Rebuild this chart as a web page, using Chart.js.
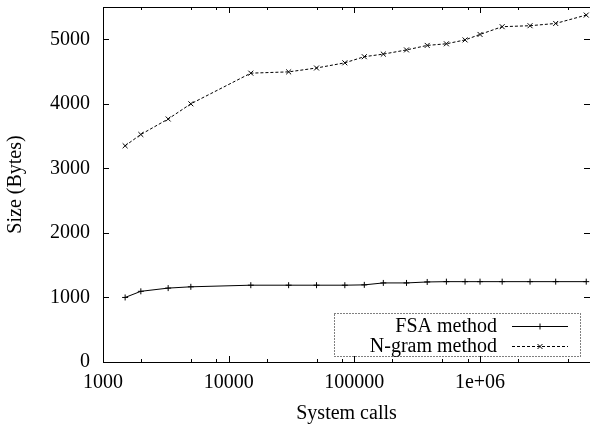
<!DOCTYPE html>
<html lang="en">
<head>
  <meta charset="UTF-8">
  <title>Size vs system calls</title>
  <script src="https://cdn.jsdelivr.net/npm/chart.js"></script>
  <style>
    html, body { margin: 0; padding: 0; background: #fff; overflow: hidden; }
    #wrap { width: 590px; height: 427px; }
  </style>
</head>
<body>
  <div id="wrap"><canvas id="chart" width="590" height="427"></canvas></div>
  <script>
    // data (x is log scale)
    const calls = [1500, 2000, 3300, 5000, 15000, 30000, 50000, 84000, 120000, 170000, 260000, 380000, 540000, 760000, 1000000, 1500000, 2500000, 4000000, 7000000];
    const fsaSize = [1000, 1095, 1145, 1165, 1190, 1190, 1190, 1190, 1195, 1225, 1225, 1240, 1245, 1245, 1245, 1245, 1245, 1245, 1245];
    const ngramSize = [3350, 3525, 3765, 4000, 4475, 4495, 4555, 4635, 4730, 4770, 4835, 4905, 4930, 4990, 5075, 5195, 5210, 5245, 5375];
    const seriesNames = ['FSA method', 'N-gram method'];
    const xMajor = [1000, 10000, 100000, 1000000];
    const xMinorMult = [2, 5, 8];
    const yTicks = [0, 1000, 2000, 3000, 4000, 5000];

    const FONT = { family: "'Liberation Serif', 'Times New Roman', serif", size: 20 };
    const fmtX = v => v >= 1e6 ? Math.round(v / Math.pow(10, Math.floor(Math.log10(v)))) + 'e+' + String(Math.floor(Math.log10(v))).padStart(2, '0') : String(v);

    // frame, inward ticks (gnuplot style) and the boxed legend
    const gnuFrame = {
      id: 'gnuFrame',
      afterDraw(chart) {
        const { ctx, chartArea: a, scales: { x, y } } = chart;
        ctx.save();
        ctx.strokeStyle = '#000'; ctx.lineWidth = 1; ctx.setLineDash([]);
        ctx.beginPath();
        ctx.moveTo(a.left + 0.5, a.top + 0.5); ctx.lineTo(a.left + 0.5, a.bottom + 0.5);
        ctx.lineTo(a.right, a.bottom + 0.5);
        ctx.moveTo(a.left + 0.5, a.top + 0.5); ctx.lineTo(a.right, a.top + 0.5);
        yTicks.forEach(v => {
          const py = Math.round(y.getPixelForValue(v)) + 0.5;
          ctx.moveTo(a.left, py); ctx.lineTo(a.left + 6, py);
          ctx.moveTo(a.right, py); ctx.lineTo(a.right - 6, py);
        });
        xMajor.forEach(v => {
          const px = Math.round(x.getPixelForValue(v)) + 0.5;
          ctx.moveTo(px, a.bottom); ctx.lineTo(px, a.bottom - 6);
          ctx.moveTo(px, a.top); ctx.lineTo(px, a.top + 6);
          xMinorMult.forEach(m => {
            const mv = v * m;
            if (mv > x.max) return;
            const mx = Math.round(x.getPixelForValue(mv)) + 0.5;
            ctx.moveTo(mx, a.bottom); ctx.lineTo(mx, a.bottom - 3);
            ctx.moveTo(mx, a.top); ctx.lineTo(mx, a.top + 3);
          });
        });
        ctx.stroke();

        // legend
        ctx.setLineDash([1, 2]);
        ctx.strokeRect(334.5, 313.5, 246, 43);
        ctx.font = FONT.size + 'px ' + FONT.family;
        ctx.fillStyle = '#000'; ctx.textAlign = 'right'; ctx.textBaseline = 'alphabetic';
        chart.data.datasets.forEach((ds, i) => {
          const ly = 326.5 + i * 20;
          ctx.fillText(ds.label, 497, ly + 5.5);
          ctx.setLineDash(ds.borderDash || []);
          ctx.beginPath(); ctx.moveTo(512, ly); ctx.lineTo(568, ly); ctx.stroke();
          ctx.setLineDash([]);
          ctx.beginPath();
          if (ds.pointStyle === 'cross') {
            ctx.moveTo(537, ly); ctx.lineTo(543, ly); ctx.moveTo(540, ly - 3); ctx.lineTo(540, ly + 3);
          } else {
            ctx.moveTo(537.5, ly - 2.5); ctx.lineTo(542.5, ly + 2.5); ctx.moveTo(537.5, ly + 2.5); ctx.lineTo(542.5, ly - 2.5);
          }
          ctx.stroke();
        });
        ctx.restore();
      }
    };

    new Chart(document.getElementById('chart'), {
      type: 'line',
      data: {
        datasets: [
          { label: seriesNames[0], data: calls.map((c, i) => ({ x: c, y: fsaSize[i] })),
            borderColor: '#000', borderWidth: 1, pointStyle: 'cross', pointRadius: 3,
            pointBorderColor: '#000', pointBorderWidth: 1, tension: 0, fill: false },
          { label: seriesNames[1], data: calls.map((c, i) => ({ x: c, y: ngramSize[i] })),
            borderColor: '#000', borderWidth: 1, borderDash: [3, 2], pointStyle: 'crossRot', pointRadius: 3.5,
            pointBorderColor: '#000', pointBorderWidth: 1, tension: 0, fill: false }
        ]
      },
      options: {
        responsive: false, animation: false, devicePixelRatio: 1,
        layout: { autoPadding: false, padding: { top: 7, right: 0, left: 0, bottom: 0 } },
        plugins: { legend: { display: false }, tooltip: { enabled: false } },
        scales: {
          x: {
            type: 'logarithmic', min: 1000, max: 7.5e6,
            afterBuildTicks: s => { s.ticks = xMajor.map(v => ({ value: v })); },
            afterFit: s => { s.height = 65; s.paddingLeft = 0; s.paddingRight = 0; },
            grid: { display: false, drawTicks: false }, border: { display: false },
            ticks: { color: '#000', font: FONT, padding: 9, maxRotation: 0, autoSkip: false, callback: v => fmtX(v) },
            title: { display: true, text: 'System calls', color: '#000', font: FONT, padding: { top: 0, bottom: 1.75 } }
          },
          y: {
            min: 0, max: 5500,
            afterBuildTicks: s => { s.ticks = yTicks.map(v => ({ value: v })); },
            afterFit: s => { s.width = 103; s.paddingTop = 0; s.paddingBottom = 0; },
            grid: { display: false, drawTicks: false }, border: { display: false },
            ticks: { color: '#000', font: FONT, padding: 13, callback: v => String(v) },
            title: { display: true, text: 'Size (Bytes)', color: '#000', font: FONT, padding: { top: 3.75, bottom: 0 } }
          }
        }
      },
      plugins: [gnuFrame]
    });
  </script>
</body>
</html>
